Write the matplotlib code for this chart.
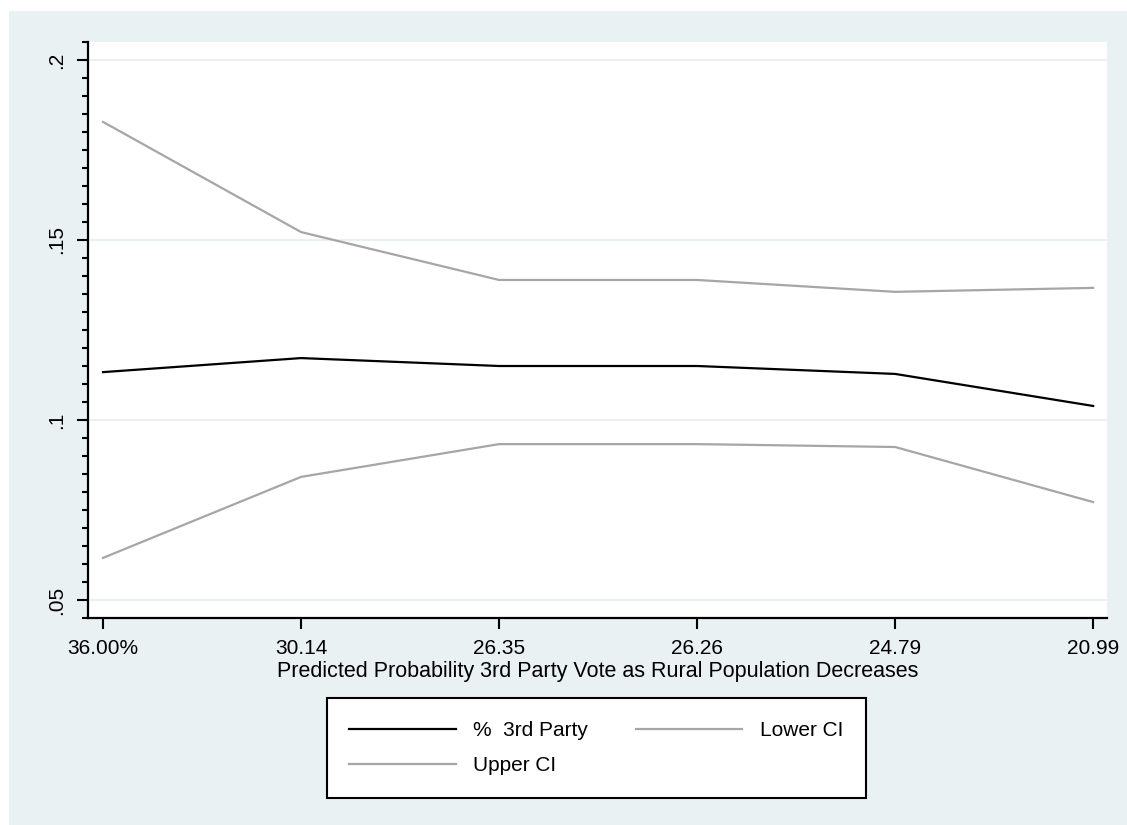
import matplotlib
matplotlib.use("Agg")
import matplotlib.pyplot as plt
from matplotlib.ticker import MultipleLocator, FixedLocator

# Rural population share (category labels along the x axis)
categories = ["36.00%", "30.14", "26.35", "26.26", "24.79", "20.99"]

# Predicted probability of a 3rd party vote and its confidence bounds
pred_third_party = [0.1133, 0.1172, 0.1150, 0.1150, 0.1128, 0.1039]
lower_ci = [0.0617, 0.0842, 0.0933, 0.0933, 0.0925, 0.0772]
upper_ci = [0.1828, 0.1522, 0.1389, 0.1389, 0.1356, 0.1367]

y_ticks = [0.05, 0.10, 0.15, 0.20]
y_tick_labels = [".05", ".1", ".15", ".2"]

plt.rcParams["font.family"] = ["Liberation Sans", "DejaVu Sans"]

W, H = 1127, 825
fig = plt.figure(figsize=(W / 100, H / 100), dpi=100)
fig.patch.set_facecolor("white")

region_bg = "#EAF1F3"
# shaded graph region (white margin only along the top and left edges)
fig.patches.append(plt.Rectangle((9 / W, -0.01), 1.01 - 9 / W, 1.01 - 11 / H,
                                 transform=fig.transFigure, facecolor=region_bg,
                                 edgecolor="none", zorder=-10))

ax = fig.add_axes([88 / W, 1 - 618 / H, (1107 - 88) / W, (618 - 42) / H])
ax.set_facecolor("white")

x = list(range(len(categories)))
ax.plot(x, pred_third_party, color="black", lw=1.6, label="%  3rd Party", zorder=3)
ax.plot(x, lower_ci, color="#A6A6A6", lw=1.6, label="Lower CI", zorder=3)
ax.plot(x, upper_ci, color="#A6A6A6", lw=1.6, label="Upper CI", zorder=3)

ax.set_xlim(-0.076, 5.07)
ax.set_ylim(0.045, 0.205)

ax.yaxis.set_major_locator(FixedLocator(y_ticks))
ax.set_yticklabels(y_tick_labels, rotation=90, va="center")
ax.yaxis.set_minor_locator(MultipleLocator(0.005))
ax.set_xticks(x)
ax.set_xticklabels(categories)

for yv in y_ticks:
    ax.axhline(yv, color="#E4EEF0", lw=1.2, zorder=1)

for side in ("top", "right"):
    ax.spines[side].set_visible(False)
for side in ("left", "bottom"):
    ax.spines[side].set_linewidth(1.6)
    ax.spines[side].set_color("black")

ax.tick_params(axis="both", which="major", length=8, width=1.5, labelsize=15,
               colors="black")
ax.tick_params(axis="y", which="major", pad=8)
ax.tick_params(axis="x", which="major", pad=7)
ax.tick_params(axis="y", which="minor", length=4, width=1.5, color="black")

ax.set_xlabel("Predicted Probability 3rd Party Vote as Rural Population Decreases",
              fontsize=15.5, labelpad=2, color="black")

handles, labels = ax.get_legend_handles_labels()
order = [0, 2, 1]
leg = fig.legend([handles[i] for i in order], [labels[i] for i in order],
                 loc="center", bbox_to_anchor=(596.5 / W, 1 - 748 / H),
                 ncol=2, fontsize=15, frameon=True, fancybox=False,
                 framealpha=1.0,
                 handlelength=5.1, handletextpad=0.85, columnspacing=2.3,
                 borderpad=1.1, labelspacing=0.75)
leg.get_frame().set_edgecolor("black")
leg.get_frame().set_linewidth(1.5)
leg.get_frame().set_facecolor("white")

fig.savefig("out.png", dpi=100, facecolor=fig.get_facecolor())
